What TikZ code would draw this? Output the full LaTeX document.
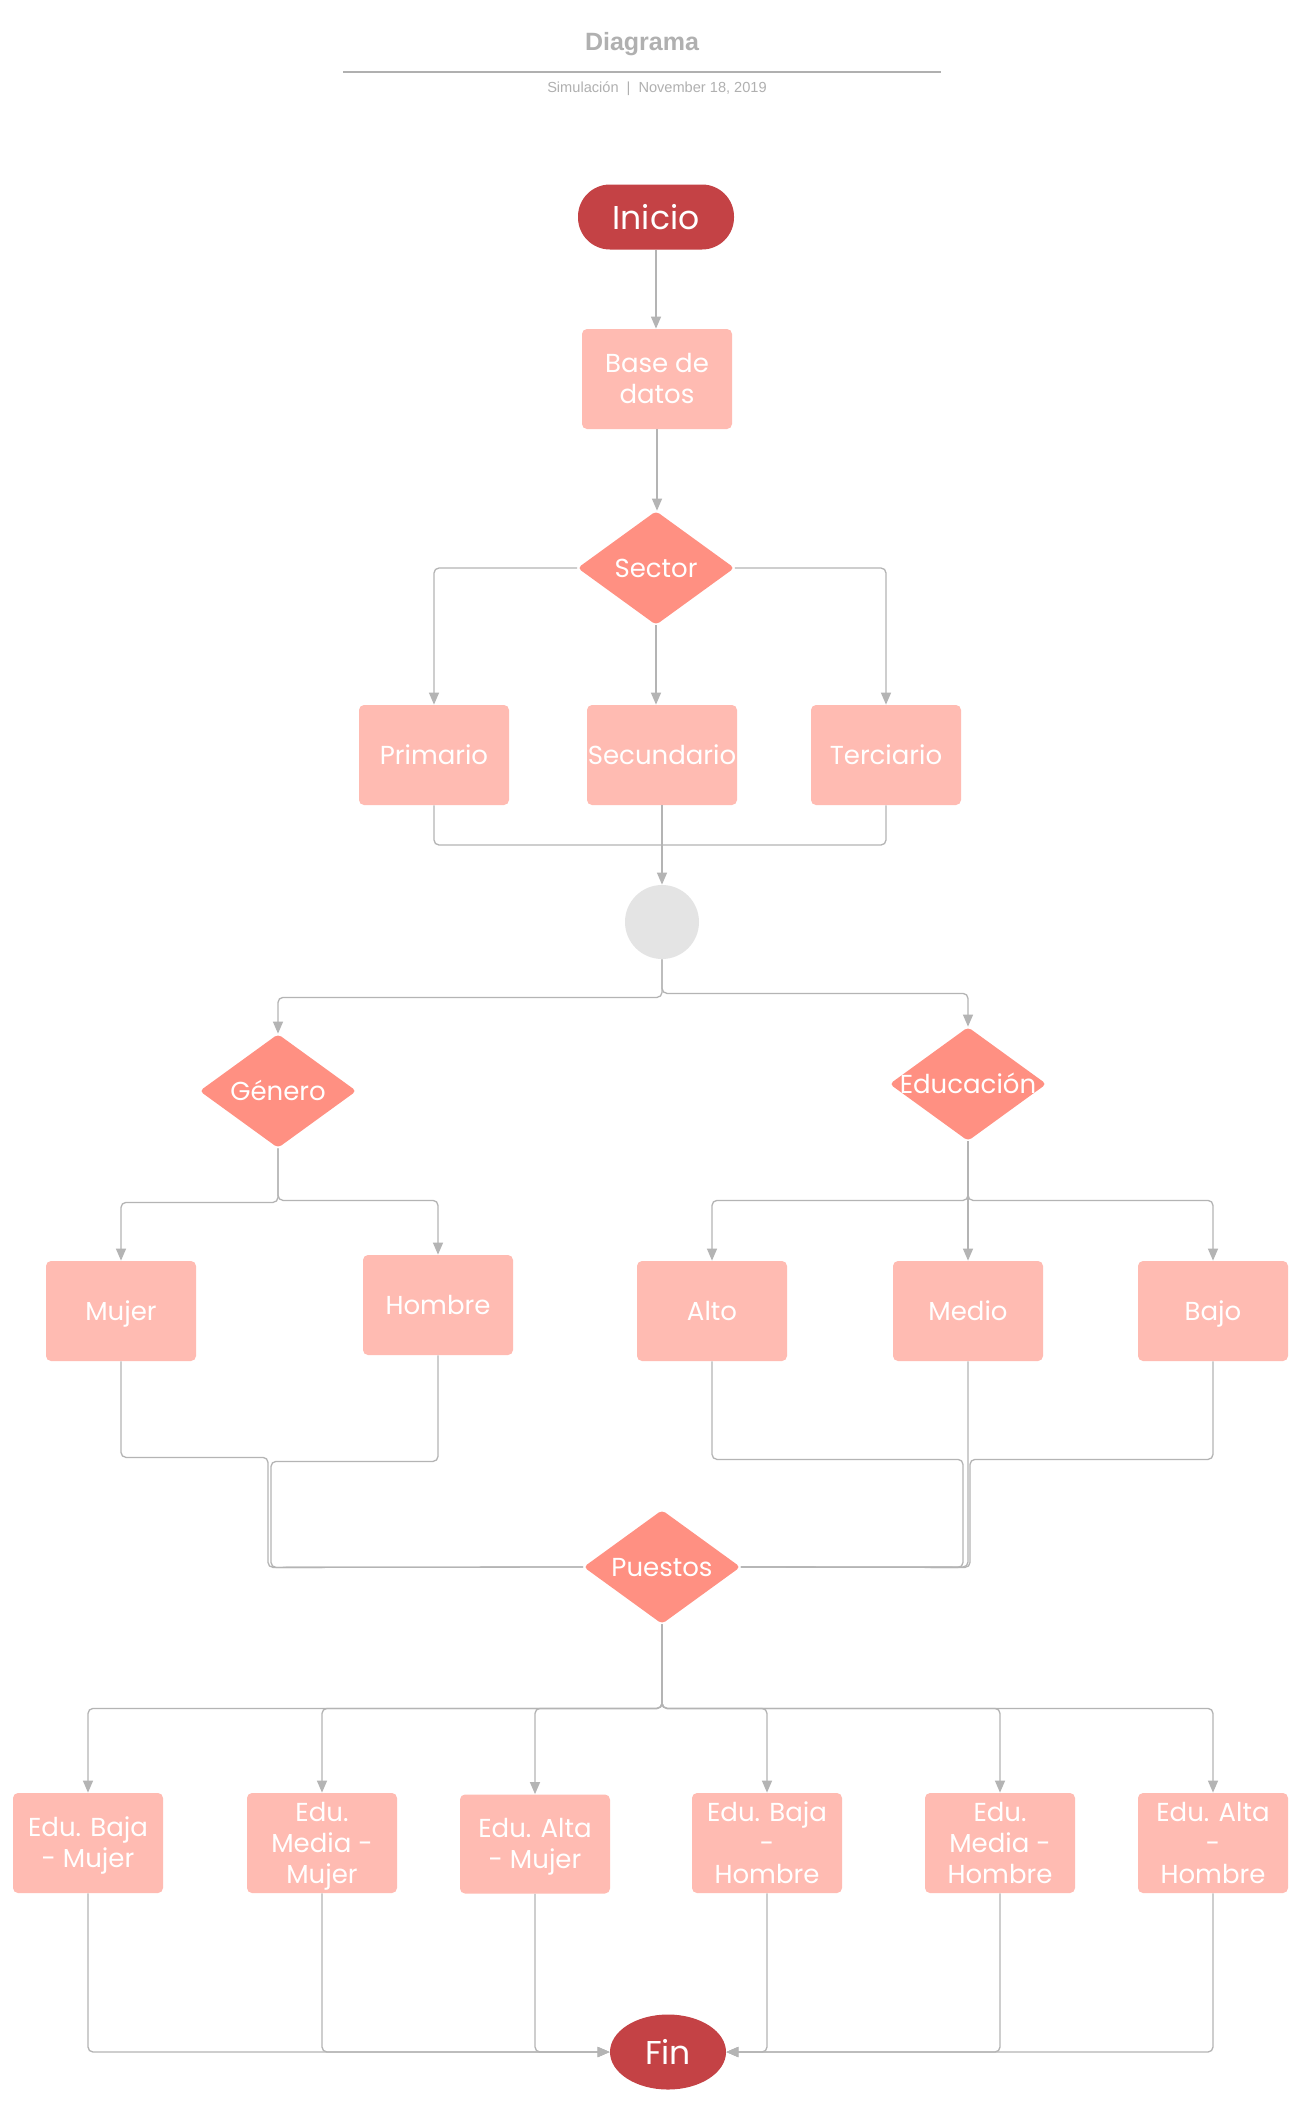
\documentclass[tikz,border=0pt]{standalone}
\usepackage{fontspec}
\setmainfont{Poppins}
\newfontfamily\headfont{Liberation Sans}
\usetikzlibrary{arrows.meta,shapes.geometric}

\definecolor{startred}{HTML}{C44245}
\definecolor{boxpink}{HTML}{FFBBB2}
\definecolor{decsalmon}{HTML}{FF9082}
\definecolor{wire}{HTML}{B4B4B4}
\definecolor{junction}{HTML}{E4E4E4}
\definecolor{headgray}{HTML}{B0B0B0}

% label of a decision node: takes no room, so the diamond keeps its set size
\newcommand\dlabel[1]{\smash{\raisebox{-0.38em}{\makebox[0pt]{#1}}}}
% label of a process box: centred lines, set a little low in the box
\newcommand\blabel[1]{\raisebox{-1.5pt}[\height][\depth]{\begin{tabular}{@{}c@{}}#1\end{tabular}}}

\begin{document}
\begin{tikzpicture}[x=0.5pt,y=-0.5pt,
  terminal/.style={rectangle, fill=startred, text=white, rounded corners=16pt,
    minimum width=78pt, minimum height=32.5pt, inner sep=0pt,
    font=\fontsize{16.5}{20}\selectfont},
  endterminal/.style={ellipse, fill=startred, text=white,
    minimum width=58pt, minimum height=37.5pt, inner sep=0pt,
    font=\fontsize{16.5}{20}\selectfont},
  procbox/.style={rectangle, fill=boxpink, rounded corners=2.5pt,
    minimum width=75pt, minimum height=50pt, inner sep=0pt, text=white,
    font=\fontsize{13}{15.5}\selectfont},
  decision/.style={diamond, fill=decsalmon, rounded corners=2pt,
    minimum width=78.5pt, minimum height=57pt, inner sep=0pt, text=white,
    font=\fontsize{13}{15.5}\selectfont},
  joint/.style={circle, fill=junction, minimum size=37pt, inner sep=0pt},
  wireline/.style={draw=wire, line width=0.65pt, rounded corners=2.5pt},
  arrowline/.style={wireline, -{Triangle[length=6pt,width=5pt]}},
  headtitle/.style={text=headgray, font=\headfont\bfseries\fontsize{12.5}{15}\selectfont},
  headsub/.style={text=headgray, font=\headfont\fontsize{7.3}{9}\selectfont},
]
\useasboundingbox (0,0) rectangle (1296,2125);
\fill[white] (0,0) rectangle (1296,2125);

% heading
\node[headtitle] (title) at (642,44) {Diagrama};
\coordinate (ruleL) at (343,72);
\coordinate (ruleR) at (941,72);
\draw[headgray, line width=1pt] (ruleL) -- (ruleR);
\node[headsub] (subtitle) at (657,89) {Simulación\hspace{0.55em}|\hspace{0.55em}November 18, 2019};

% nodes
\node[terminal] (inicio) at (656,217) {Inicio};
\node[procbox] (base) at (657,379) {\blabel{Base de\\datos}};
\node[decision] (sector) at (656,568) {\dlabel{Sector}};
\node[procbox] (primario) at (434,755) {\blabel{Primario}};
\node[procbox] (secundario) at (662,755) {\blabel{Secundario}};
\node[procbox] (terciario) at (886,755) {\blabel{Terciario}};
\node[joint] (junc) at (662,922) {};
\node[decision] (genero) at (278,1091) {\dlabel{Género}};
\node[decision] (educ) at (968,1084) {\dlabel{Educación}};
\node[procbox] (mujer) at (121,1311) {\blabel{Mujer}};
\node[procbox] (hombre) at (438,1305) {\blabel{Hombre}};
\node[procbox] (alto) at (712,1311) {\blabel{Alto}};
\node[procbox] (medio) at (968,1311) {\blabel{Medio}};
\node[procbox] (bajo) at (1213,1311) {\blabel{Bajo}};
\node[decision] (puestos) at (662,1567) {\dlabel{Puestos}};
\node[procbox] (e1) at (88,1843) {\blabel{Edu. Baja\\- Mujer}};
\node[procbox] (e2) at (322,1843) {\blabel{Edu.\\Media -\\Mujer}};
\node[procbox, minimum height=49.5pt] (e3) at (535,1844) {\blabel{Edu. Alta\\- Mujer}};
\node[procbox] (e4) at (767,1843) {\blabel{Edu. Baja\\-\\Hombre}};
\node[procbox] (e5) at (1000,1843) {\blabel{Edu.\\Media -\\Hombre}};
\node[procbox] (e6) at (1213,1843) {\blabel{Edu. Alta\\-\\Hombre}};
\node[endterminal] (fin) at (668,2052) {Fin};

% connectors
\draw[arrowline] (inicio.south) -- (inicio.south |- base.north);
\draw[arrowline] (base.south) -- (base.south |- sector.north);
\draw[arrowline] (sector.west) -| (primario.north);
\draw[arrowline] (sector.south) -- (sector.south |- secundario.north);
\draw[arrowline] (sector.east) -| (terciario.north);

\coordinate (sectorjoin) at (662,845);
\draw[wireline] (primario.south) |- (sectorjoin);
\draw[wireline] (terciario.south) |- (sectorjoin);
\draw[arrowline] (secundario.south) -- (junc.north);

\draw[arrowline] (junc.south) -- ++(0,38) -| (genero.north);
\draw[arrowline] (junc.south) -- ++(0,34) -| (educ.north);

\draw[arrowline] (genero.south) -- ++(0,54) -| (mujer.north);
\draw[arrowline] (genero.south) -- ++(0,52) -| (hombre.north);

\draw[arrowline] (educ.south) -- ++(0,59) -| (alto.north);
\draw[arrowline] (educ.south) -- (medio.north);
\draw[arrowline] (educ.south) -- ++(0,59) -| (bajo.north);

\draw[wireline] (mujer.south) -- ++(0,96) -| ++(147,110) -- (puestos.west);
\draw[wireline] (hombre.south) -- ++(0,106) -| ++(-167,106) -- (puestos.west);
\draw[wireline] (alto.south) -- ++(0,98) -| ++(251,108) -- (puestos.east);
\draw[wireline] (medio.south) -- (medio.south |- puestos.east) -- (puestos.east);
\draw[wireline] (bajo.south) -- ++(0,98) -| ++(-243,108) -- (puestos.east);

\foreach \b in {e1,e2,e3,e4,e5,e6}
  \draw[arrowline] (puestos.south) -- ++(0,84) -| (\b.north);

\foreach \b in {e1,e2,e3}
  \draw[arrowline] (\b.south) |- (fin.west);
\foreach \b in {e4,e5,e6}
  \draw[arrowline] (\b.south) |- (fin.east);
\end{tikzpicture}
\end{document}
